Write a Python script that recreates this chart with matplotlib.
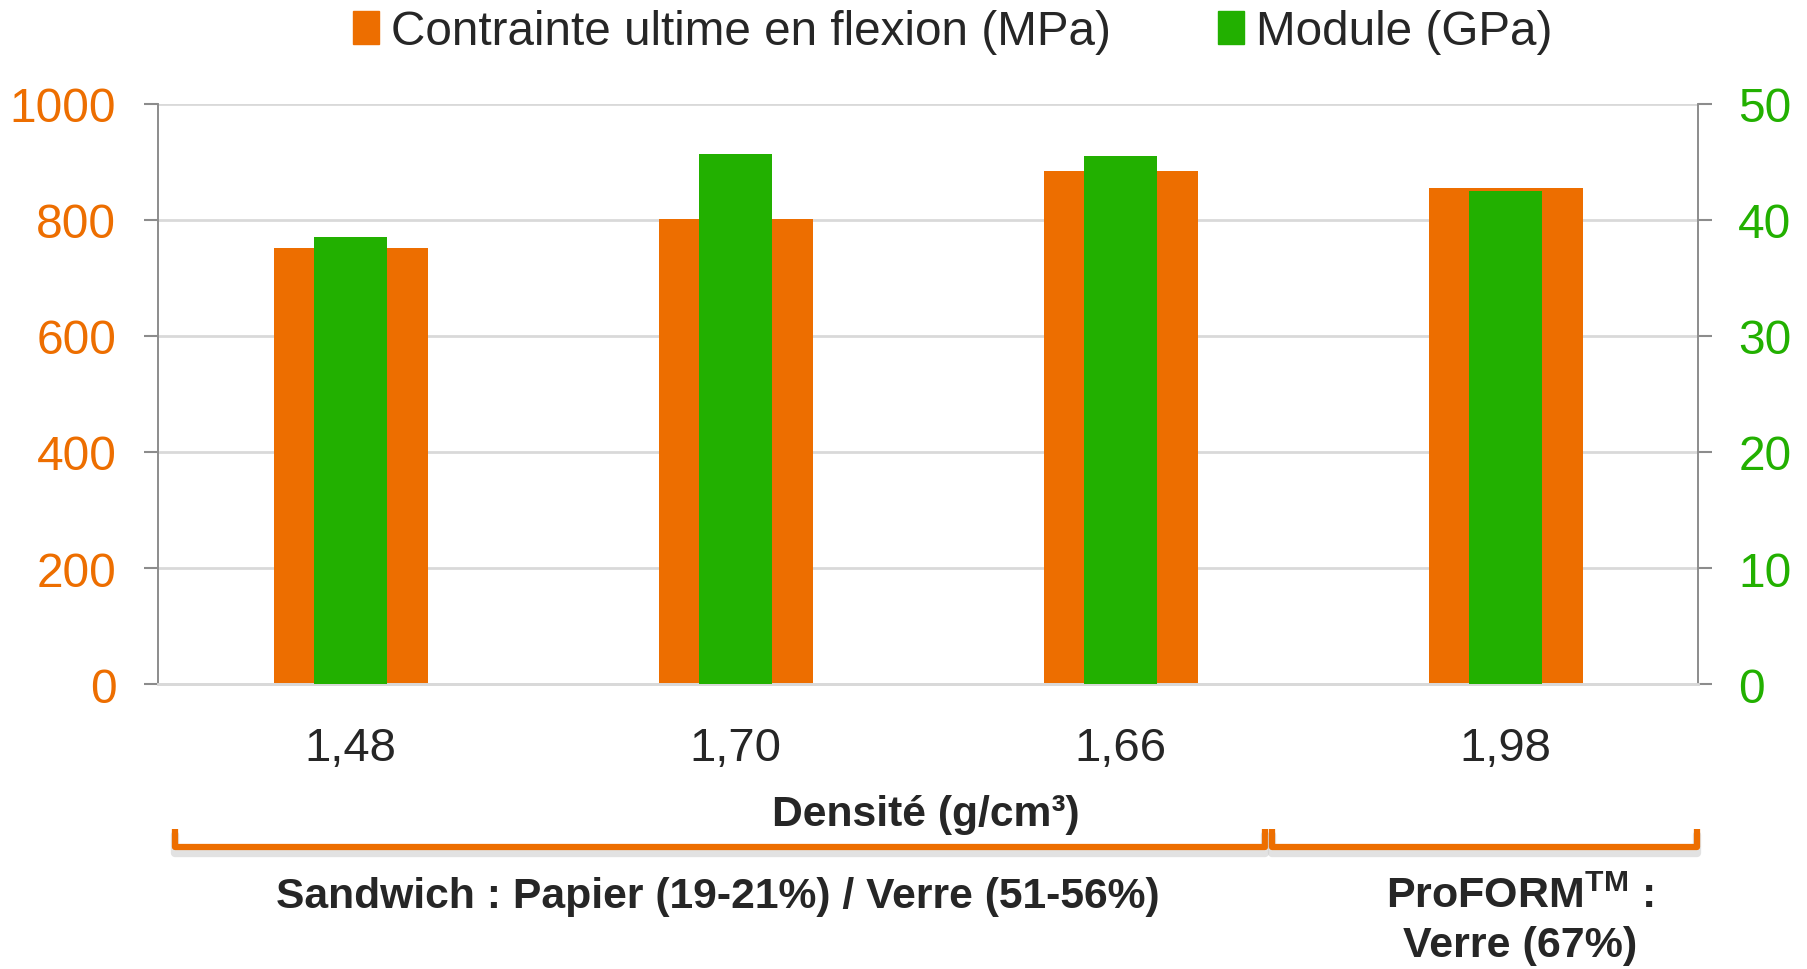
import numpy as np
import matplotlib

matplotlib.use("Agg")
import matplotlib.pyplot as plt
from matplotlib.patches import Patch
from matplotlib.transforms import blended_transform_factory

# ---- palette ---------------------------------------------------------------
ORANGE = "#ED6E00"
GREEN = "#22B000"
INK = "#262626"
GRID = "#D9D9D9"
SPINE = "#8C8C8C"
SHADOW = "#CFCFCF"

plt.rcParams.update({
    "font.family": ["Liberation Sans", "DejaVu Sans"],
    "mathtext.fontset": "custom",
    "mathtext.rm": "Liberation Sans",
    "mathtext.bf": "Liberation Sans:bold",
    "text.color": INK,
})

# ---- data ------------------------------------------------------------------
categories = ["1,48", "1,70", "1,66", "1,98"]
contrainte = [752, 801, 885, 855]      # MPa, left axis
module = [38.5, 45.7, 45.5, 42.5]      # GPa, right axis
left_ticks = [0, 200, 400, 600, 800, 1000]
right_ticks = [0, 10, 20, 30, 40, 50]

# group brackets under the x axis (data-x spans)
groups = ["Sandwich : Papier (19-21%) / Verre (51-56%)",
          "ProFORM$^{\\mathbf{TM}}$ :\nVerre (67%)"]
group_spans = [(-0.456, 2.375), (2.394, 3.497)]

# ---------------------------------------------------------------------------
fig = plt.figure(figsize=(18.08, 9.70), dpi=100)
ax = fig.add_axes([0.0874, 0.2938, 0.8518, 0.598])
ax2 = ax.twinx()

x = np.arange(len(categories))
ax.bar(x, contrainte, width=0.4, color=ORANGE, zorder=2)
ax2.bar(x, module, width=0.19, color=GREEN, zorder=3)

ax.set_xlim(-0.5, 3.5)
ax.set_ylim(0, 1000)
ax2.set_ylim(0, 50)
ax.set_yticks(left_ticks)
ax2.set_yticks(right_ticks)
ax.set_xticks(x)
ax.set_xticklabels(categories, fontsize=34, color=INK)

ax.grid(axis="y", color=GRID, lw=2, zorder=0)
ax.set_axisbelow(True)
ax.tick_params(axis="x", length=0, pad=30)
ax.tick_params(axis="y", colors=SPINE, labelcolor=ORANGE, labelsize=34.5,
               length=10, width=1.5, pad=20)
ax2.tick_params(axis="y", colors=SPINE, labelcolor=GREEN, labelsize=34.5,
                length=10, width=1.5, pad=19)

for a in (ax, ax2):
    a.spines["top"].set_visible(False)
    a.spines["bottom"].set_color(GRID)
    a.spines["bottom"].set_linewidth(2)
    a.spines["left"].set_color(SPINE)
    a.spines["right"].set_color(SPINE)
    a.spines["left"].set_linewidth(1.2)
    a.spines["right"].set_linewidth(1.2)

# legend at the top
handles = [Patch(color=ORANGE, label="Contrainte ultime en flexion (MPa)"),
           Patch(color=GREEN, label="Module (GPa)")]
fig.legend(handles=handles, loc="center", bbox_to_anchor=(0.527, 0.966),
           ncol=2, frameon=False, fontsize=34.3, handlelength=0.55,
           handleheight=0.7, handletextpad=0.25, columnspacing=2.25)

# x axis title
fig.text(926 / 1808, 1 - 815 / 970, "Densité (g/cm³)", fontsize=30.7,
         fontweight="bold", ha="center", va="center")

# group brackets with soft shadow
tr = blended_transform_factory(ax.transData, fig.transFigure)
y_low = 1 - 848 / 970
y_up = 1 - 830 / 970
y_off = 6 / 970
for (x0, x1), label in zip(group_spans, groups):
    xs = [x0, x0, x1, x1]
    ax.plot(xs, [y_up - y_off, y_low - y_off, y_low - y_off, y_up - y_off],
            transform=tr, color=SHADOW, lw=6, alpha=0.6, clip_on=False,
            solid_joinstyle="round", solid_capstyle="round")
    ax.plot(xs, [y_up, y_low, y_low, y_up], transform=tr, color=ORANGE,
            lw=4.5, clip_on=False, solid_joinstyle="round",
            solid_capstyle="butt")

fig.text(718 / 1808, 1 - 897 / 970, groups[0], fontsize=30.7,
         fontweight="bold", ha="center", va="center")
fig.text(1520 / 1808, 1 - 921 / 970, groups[1], fontsize=31,
         fontweight="bold", ha="center", va="center", linespacing=1.3)

fig.savefig("out.png", dpi=100, facecolor="white")
